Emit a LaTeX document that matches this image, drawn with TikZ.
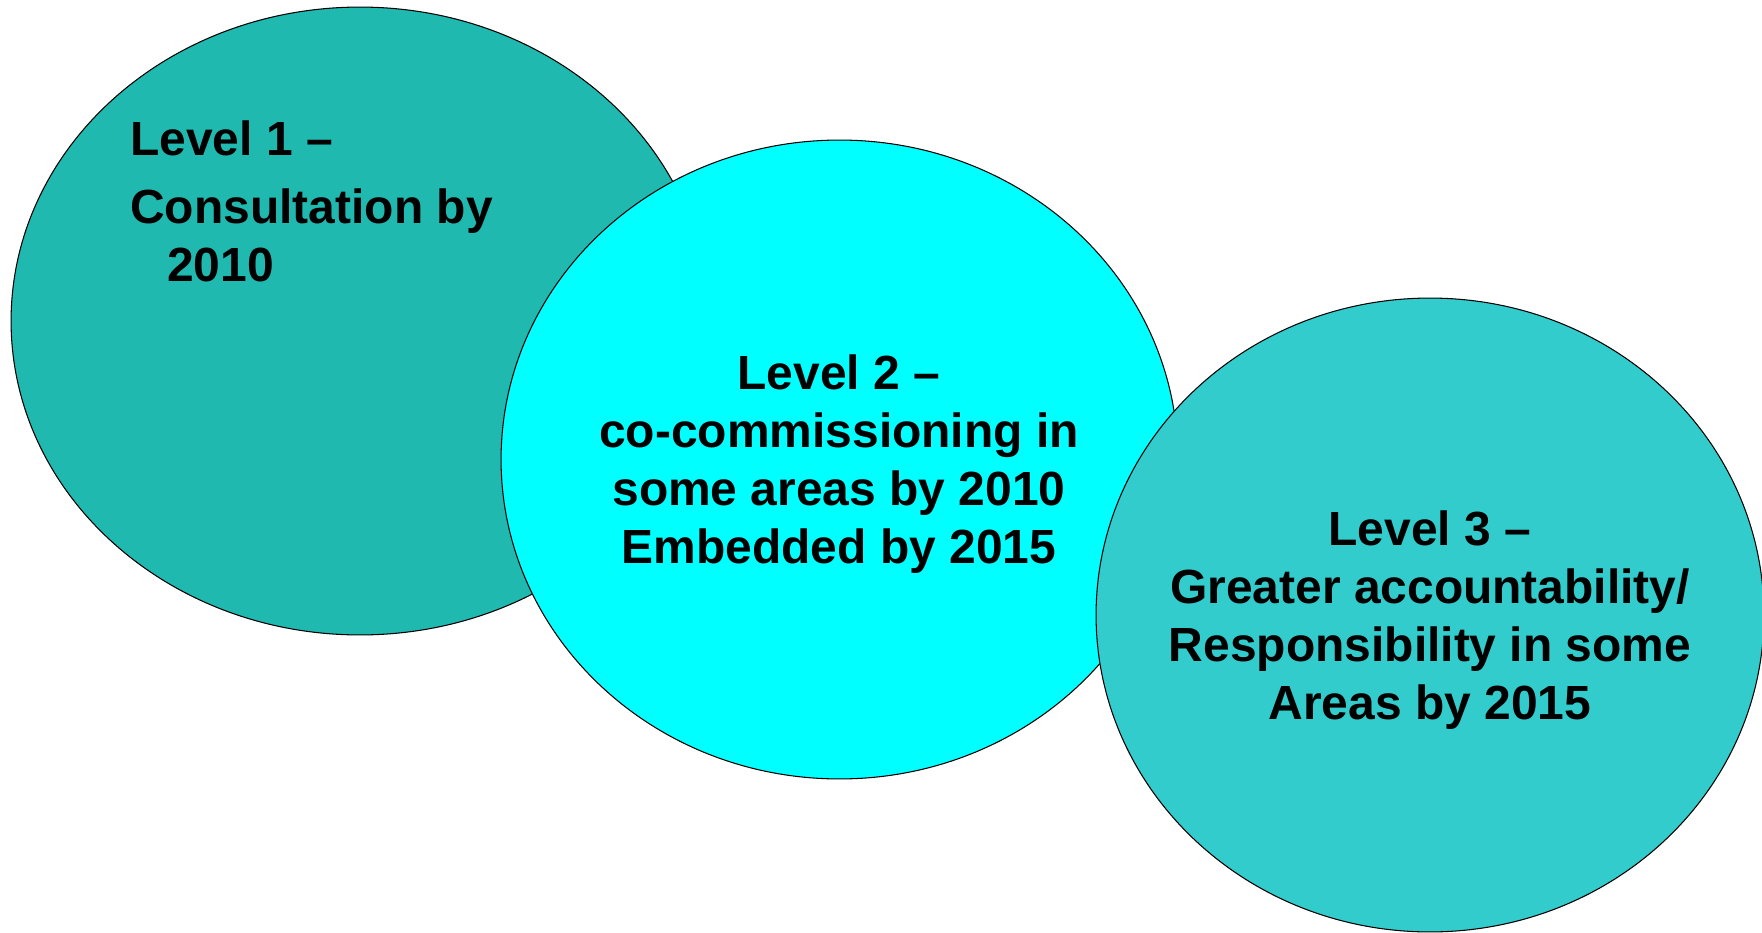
\documentclass[tikz,border=0pt]{standalone}
\usepackage{fontspec}
\setmainfont{Liberation Sans}
\usetikzlibrary{shapes.geometric}
\definecolor{levelone}{HTML}{20B9B0}
\definecolor{leveltwo}{HTML}{00FFFF}
\definecolor{levelthree}{HTML}{33CCCC}
\tikzset{
  level/.style={ellipse, draw=black, line width=0.6pt, inner sep=0pt},
  lvltext/.style={font=\bfseries\fontsize{27.3}{33}\selectfont, inner sep=0pt}
}

\begin{document}
\begin{tikzpicture}[x=0.02cm, y=-0.02cm]
    \useasboundingbox (0,0) rectangle (1762,933);
    \node[level, fill=levelone, minimum width=13.96cm, minimum height=12.56cm] (l1) at (360,321) {};
    \node[level, fill=leveltwo, minimum width=13.54cm, minimum height=12.78cm] (l2) at (839.5,459.5) {};
    \node[level, fill=levelthree, minimum width=13.36cm, minimum height=12.68cm] (l3) at (1430,615) {};
    % base = baseline of the last line
    \node[lvltext, align=left, anchor=base west] (t1) at (130,281)
        {Level 1 --\\[5.7pt]Consultation by\\\hspace*{21pt}2010};
    \node[lvltext, align=center, anchor=base] (t2) at (839,563)
        {Level 2 --\\co-commissioning in\\some areas by 2010\\Embedded by 2015};
    \node[lvltext, align=center, anchor=base] (t3) at (1430,719)
        {Level 3 --\\Greater accountability/\\Responsibility in some\\Areas by 2015};
\end{tikzpicture}
\end{document}
